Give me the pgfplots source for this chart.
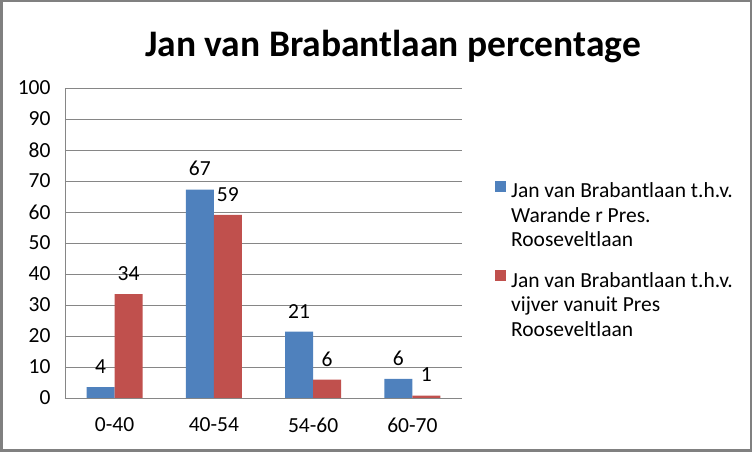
\documentclass[border=0pt]{standalone}
\usepackage{fontspec}
\setmainfont{Carlito}
\usepackage{pgfplots}
\usepackage{pgfplotstable}
\pgfplotsset{compat=1.18}
\definecolor{barblue}{RGB}{79,129,189}
\definecolor{barred}{RGB}{192,80,77}
\definecolor{gridgray}{RGB}{134,134,134}
\definecolor{framegray}{RGB}{128,128,128}

\pgfplotstableread{
x y lab
0 3.5 4
1 67.2 67
2 21.4 21
3 6.2 6
}\bluedata
\pgfplotstableread{
x y lab
0 33.5 34
1 59.1 59
2 5.9 6
3 0.8 1
}\reddata

\begin{document}
\begin{tikzpicture}[x=1pt,y=1pt]
\useasboundingbox (0,0) rectangle (752,452);
\draw[line width=2.5pt, framegray] (1.25,1.25) rectangle (750.75,450.75);
\node[anchor=base, font=\fontsize{37.5}{44}\selectfont\bfseries] at (393,395) {Jan van Brabantlaan percentage};
\begin{axis}[
  at={(65pt,54pt)}, anchor=south west,
  scale only axis, width=397pt, height=310pt,
  ybar=0pt, bar width=28pt,
  xmin=-0.5, xmax=3.5, ymin=0, ymax=100,
  xtick={0,1,2,3}, xticklabels={0-40,40-54,54-60,60-70},
  ytick distance=10,
  ymajorgrids, grid style={gridgray, line width=0.75pt},
  axis lines*=left, axis line style={gridgray, line width=0.75pt},
  major tick length=0pt,
  tick label style={font=\fontsize{21.5}{26}\selectfont, text=black},
  /pgf/number format/assume math mode=true,
  yticklabel style={xshift=-11pt},
  xticklabel style={yshift=-16pt},
  nodes near coords, point meta=explicit symbolic,
  every node near coord/.append style={font=\fontsize{21.5}{26}\selectfont, text=black, yshift=10pt},
  legend image code/.code={\fill[#1] (0pt,23.5pt) rectangle (11pt,34.5pt);},
  legend cell align=left,
  legend style={at={(1.083,0.70)}, anchor=north west, draw=none, fill=none,
    inner sep=0pt, column sep=5pt, row sep=22pt,
    cells={align=left}, nodes={inner sep=0pt},
    font=\fontsize{21.5}{24.5}\selectfont},
]
\addplot[fill=barblue, draw=none] table[x=x,y=y,meta=lab]{\bluedata};
\addlegendentry{Jan van Brabantlaan t.h.v.\\Warande r Pres.\\Rooseveltlaan}
\addplot[fill=barred, draw=none] table[x=x,y=y,meta=lab]{\reddata};
\addlegendentry{Jan van Brabantlaan t.h.v.\\vijver vanuit Pres\\Rooseveltlaan}
\end{axis}
\end{tikzpicture}
\end{document}
